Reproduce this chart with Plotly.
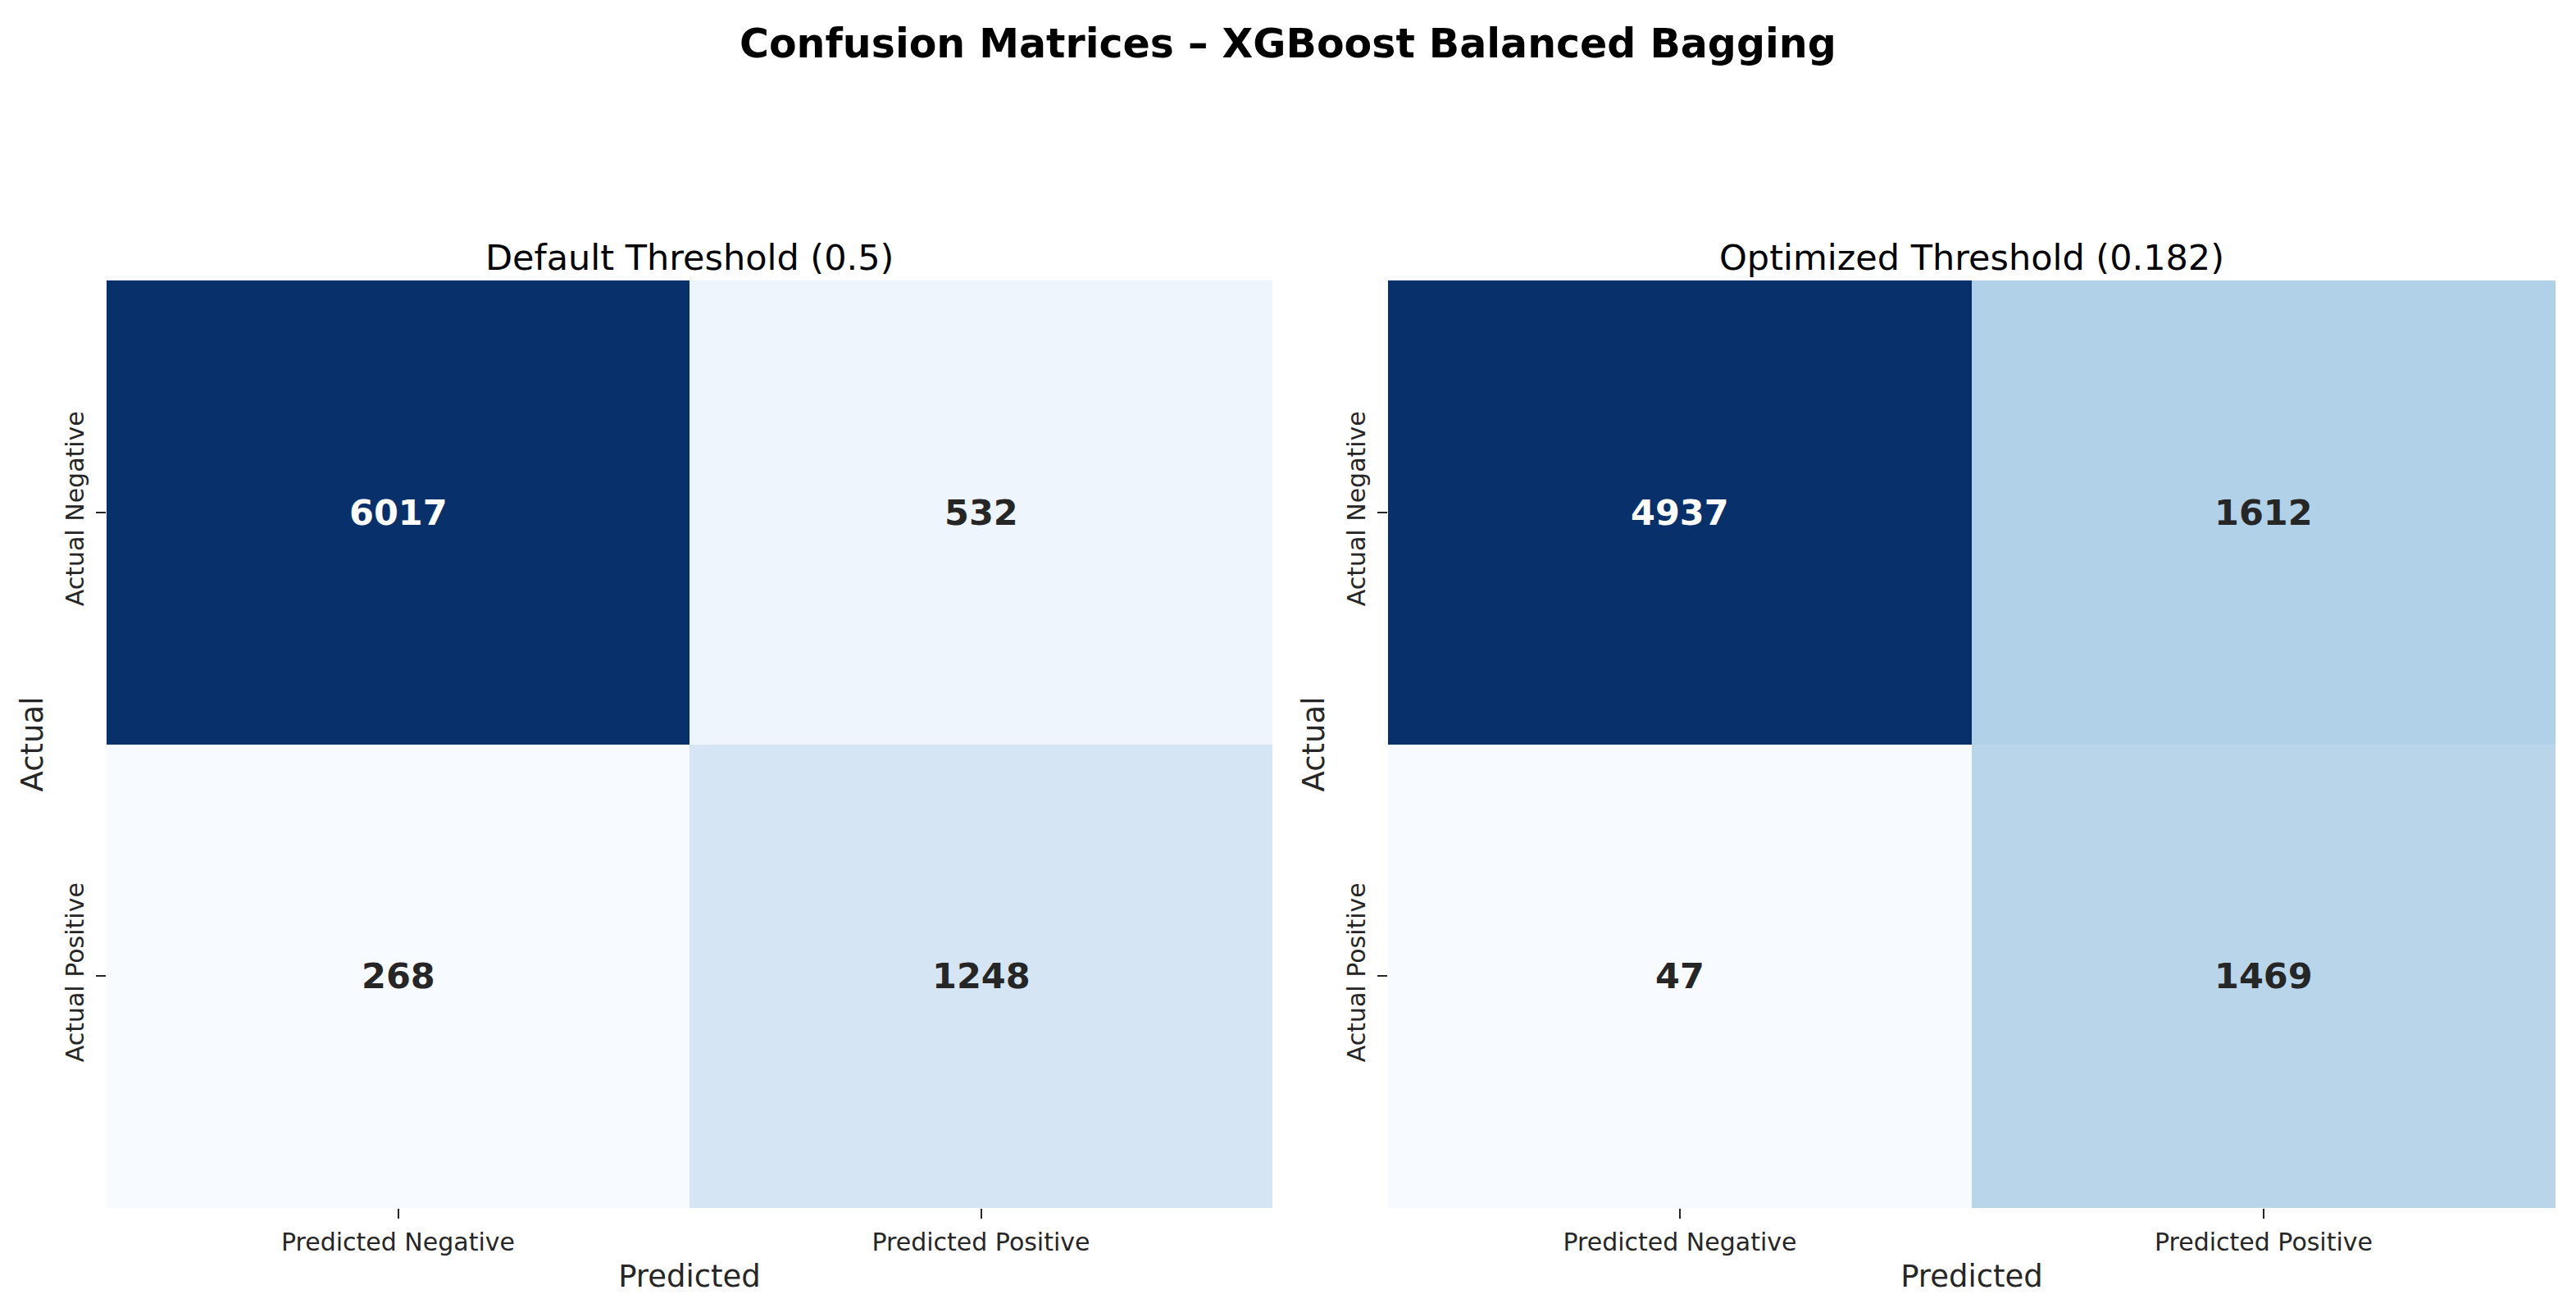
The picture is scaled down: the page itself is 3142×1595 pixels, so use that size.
import plotly.graph_objects as go

# ---- data ----
pred_labels = ["Predicted Negative", "Predicted Positive"]
actual_labels = ["Actual Negative", "Actual Positive"]
cm_default = [[6017, 532], [268, 1248]]
cm_optimized = [[4937, 1612], [47, 1469]]
titles = ["Default Threshold (0.5)", "Optimized Threshold (0.182)"]
main_title = "Confusion Matrices – XGBoost Balanced Bagging"

blues = ["#f7fbff", "#deebf7", "#c6dbef", "#9ecae1", "#6baed6",
         "#4292c6", "#2171b5", "#08519c", "#08306b"]
colorscale = [[i / (len(blues) - 1), c] for i, c in enumerate(blues)]

FONT = "DejaVu Sans"
W, H = 3142, 1595
OFF = 8  # default body margin of the page
FW, FH = W - 2 * OFF, H - 2 * OFF


def px_x(p):
    return (p - OFF) / FW


def px_y(p):
    return 1 - (p - OFF) / FH


x_domains = [[px_x(130), px_x(1552)], [px_x(1693), px_x(3117)]]
y_domain = [px_y(1473), px_y(342)]

fig = go.Figure()
annotations = []
for k, (cm, title) in enumerate(zip([cm_default, cm_optimized], titles)):
    xa = "x" if k == 0 else "x2"
    ya = "y" if k == 0 else "y2"
    flat = [v for row in cm for v in row]
    zmin, zmax = min(flat), max(flat)
    fig.add_trace(go.Heatmap(
        z=cm, x=pred_labels, y=actual_labels, xaxis=xa, yaxis=ya,
        colorscale=colorscale, zmin=zmin, zmax=zmax, showscale=False,
        hoverinfo="skip",
    ))
    for i, row in enumerate(cm):
        for j, v in enumerate(row):
            frac = (v - zmin) / (zmax - zmin)
            color = "white" if frac > 0.6 else "#262626"
            annotations.append(dict(
                x=pred_labels[j], y=actual_labels[i], xref=xa, yref=ya,
                text=f"<b>{v}</b>", showarrow=False,
                font=dict(family=FONT, size=43, color=color),
            ))
    annotations.append(dict(
        x=sum(x_domains[k]) / 2, y=px_y(314), xref="paper", yref="paper",
        text=title, showarrow=False, xanchor="center", yanchor="middle",
        font=dict(family=FONT, size=43, color="black"),
    ))

annotations.append(dict(
    x=0.5, y=px_y(54), xref="paper", yref="paper",
    text=f"<b>{main_title}</b>", showarrow=False, xanchor="center", yanchor="middle",
    font=dict(family=FONT, size=49, color="black"),
))

axis_common = dict(
    showgrid=False, zeroline=False, showline=False,
    ticks="outside", ticklen=12, tickwidth=2, tickcolor="#262626",
    ticklabelstandoff=3,
    tickfont=dict(family=FONT, size=30, color="#262626"),
)
for k in range(2):
    sx = "" if k == 0 else "2"
    fig.update_layout(**{
        f"xaxis{sx}": dict(
            domain=x_domains[k], anchor=f"y{sx}",
            title=dict(text="Predicted", font=dict(family=FONT, size=37, color="#262626"), standoff=12),
            **axis_common,
        ),
        f"yaxis{sx}": dict(
            domain=y_domain, anchor=f"x{sx}", autorange="reversed",
            tickangle=-90,
            title=dict(text="Actual", font=dict(family=FONT, size=37, color="#262626"), standoff=10),
            **axis_common,
        ),
    })

fig.update_layout(
    width=FW, height=FH,
    margin=dict(l=0, r=0, t=0, b=0),
    paper_bgcolor="white", plot_bgcolor="white",
    annotations=annotations,
    showlegend=False,
)

fig.write_html("out.html")
